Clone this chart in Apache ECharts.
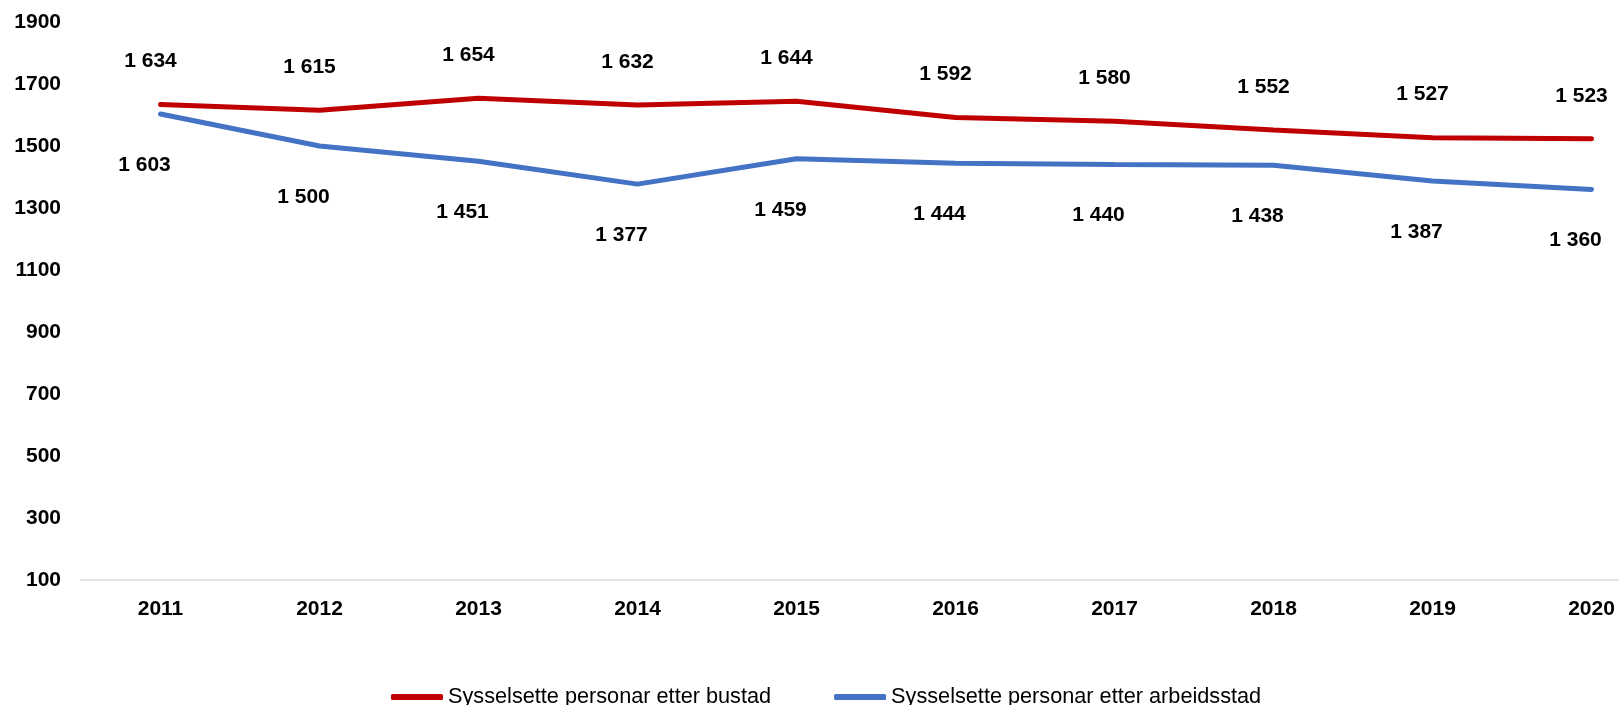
<!DOCTYPE html>
<html>
<head>
<meta charset="utf-8">
<script src="https://cdn.jsdelivr.net/npm/echarts@6/dist/echarts.min.js"></script>
<style>
  html, body { margin: 0; padding: 0; background: #fff; overflow: hidden; }
  /* plot runs past the right edge like the original, so the div is wider than the window */
  #main { width: 1673px; height: 705px; }
</style>
</head>
<body>
<div id="main"></div>
<script>
// år
var years = ['2011', '2012', '2013', '2014', '2015', '2016', '2017', '2018', '2019', '2020'];
// sysselsette etter bustad
var bustad = [1634, 1615, 1654, 1632, 1644, 1592, 1580, 1552, 1527, 1523];
// sysselsette etter arbeidsstad
var arbeidsstad = [1603, 1500, 1451, 1377, 1459, 1444, 1440, 1438, 1387, 1360];

var font = '"Liberation Sans", Arial, sans-serif';

function fmt(v) {
    return String(v).replace(/\B(?=(\d{3})+(?!\d))/g, ' ');
}

var myChart = echarts.init(document.getElementById('main'));

var option = {
    backgroundColor: '#fff',
    animation: false,
    grid: {
        left: 81,
        right: 2,
        top: 22,
        bottom: 125
    },
    legend: {
        left: 386,
        top: 680,
        itemGap: 63,
        itemWidth: 52,
        itemHeight: 6,
        icon: 'roundRect',
        textStyle: {
            fontFamily: font,
            fontSize: 21.7,
            color: '#000',
            lineHeight: 24
        },
        data: ['Sysselsette personar etter bustad', 'Sysselsette personar etter arbeidsstad']
    },
    xAxis: {
        type: 'category',
        data: years,
        boundaryGap: true,
        axisLine: { lineStyle: { color: '#D9D9D9', width: 1.5 } },
        axisTick: { show: false },
        axisLabel: {
            margin: 19,
            fontFamily: font,
            fontSize: 21,
            fontWeight: 'bold',
            color: '#000'
        }
    },
    yAxis: {
        type: 'value',
        min: 100,
        max: 1900,
        interval: 200,
        axisLine: { show: false },
        axisTick: { show: false },
        splitLine: { show: false },
        axisLabel: {
            margin: 20,
            formatter: function (v) { return String(v); },
            fontFamily: font,
            fontSize: 21,
            fontWeight: 'bold',
            color: '#000'
        }
    },
    series: [{
        name: 'Sysselsette personar etter bustad',
        type: 'line',
        data: bustad,
        color: '#C00000',
        symbol: 'circle',
        symbolSize: 1,
        lineStyle: { width: 5, cap: 'round' },
        label: {
            show: true,
            position: 'top',
            distance: 0,
            offset: [-10, -32],
            formatter: function (p) { return fmt(p.value); },
            fontFamily: font,
            fontSize: 21,
            fontWeight: 'bold',
            color: '#000'
        }
    }, {
        name: 'Sysselsette personar etter arbeidsstad',
        type: 'line',
        data: arbeidsstad,
        color: '#4472C4',
        symbol: 'circle',
        symbolSize: 1,
        lineStyle: { width: 5, cap: 'round' },
        label: {
            show: true,
            position: 'bottom',
            distance: 0,
            offset: [-16, 40],
            formatter: function (p) { return fmt(p.value); },
            fontFamily: font,
            fontSize: 21,
            fontWeight: 'bold',
            color: '#000'
        }
    }]
};

myChart.setOption(option);
</script>
</body>
</html>
